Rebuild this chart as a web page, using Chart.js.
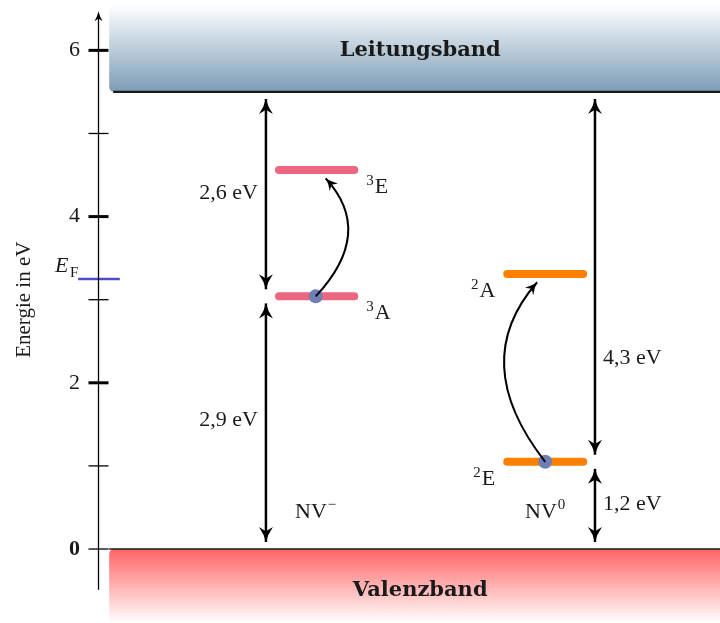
<!DOCTYPE html>
<html>
<head>
<meta charset="utf-8">
<script src="https://cdn.jsdelivr.net/npm/chart.js@4.4.1/dist/chart.umd.min.js"></script>
<style>
  body { margin: 0; background: #fff; }
</style>
</head>
<body>
<canvas id="myChart" width="720" height="623"></canvas>
<script>
// energies in eV, x in column units (0..100 across the plot area)
const tickValues = [0, 1, 2, 3, 4, 5, 6];

const bandNames = ['Leitungsband', 'Valenzband'];
const bandEdges = [5.5, 0];
const bandLabelE = [6.0, -0.5];
const bandLabelX = 51.8;
const bandLeft = 1.8;

const levelSup = ['3', '3', '2', '2'];
const levelSym = ['E', 'A', 'A', 'E'];
const levelEnergy = [4.56, 3.04, 3.31, 1.05];
const levelFrom = [29.1, 29.1, 65.8, 65.8];
const levelTo = [41.2, 41.2, 78.0, 78.0];
const levelColor = ['#ec6680', '#ec6680', '#ff8000', '#ff8000'];
const levelLabelSide = ['right', 'right', 'left', 'left'];

const electronX = [35.0, 71.9];
const electronE = [3.04, 1.05];

// curved excitation arrows: start, point on the bend, end
const exciteX = [[35.0, 40.2, 36.6], [71.9, 65.3, 70.6]];
const exciteE = [[3.04, 3.78, 4.46], [1.05, 2.19, 3.21]];

// gap arrows
const gapX = [27.0, 27.0, 79.9, 79.9];
const gapLow = [3.04, 0, 1.05, 0];
const gapHigh = [5.5, 3.04, 5.5, 1.05];
const gapLabels = ['2,6 eV', '2,9 eV', '4,3 eV', '1,2 eV'];
const gapLabelE = [4.28, 1.55, 2.29, 0.54];
const gapLabelSide = ['left', 'left', 'right', 'right'];

const defectNames = ['NV', 'NV'];
const defectSup = ['\u2212', '0'];
const defectX = [35.0, 71.9];
const defectE = [0.37, 0.37];

const fermiE = 3.25;
const fermiFrom = -3.2;
const fermiTo = 3.5;

const SERIF = '"Liberation Serif", serif';
const GAP = 0.085;

var datasets = [];

// energy levels
levelEnergy.forEach(function (e, i) {
  datasets.push({
    data: [{ x: levelFrom[i], y: e }, { x: levelTo[i], y: e }],
    borderColor: levelColor[i],
    borderWidth: 8,
    borderCapStyle: 'round',
    pointRadius: 0,
    order: 3
  });
});

// fermi level
datasets.push({
  data: [{ x: fermiFrom, y: fermiE }, { x: fermiTo, y: fermiE }],
  borderColor: '#4b4bcc',
  borderWidth: 2.5,
  pointRadius: 0,
  clip: false,
  order: 3
});

// gap arrows
gapX.forEach(function (x, i) {
  datasets.push({
    data: [{ x: x, y: gapLow[i] + GAP }, { x: x, y: gapHigh[i] - GAP }],
    borderColor: '#000',
    borderWidth: 2.5,
    pointRadius: 0,
    arrow: 'both',
    order: 2
  });
});

// excitation arrows (only the three points; the bend is drawn by the plugin)
exciteX.forEach(function (xs, i) {
  datasets.push({
    data: xs.map(function (x, j) { return { x: x, y: exciteE[i][j] }; }),
    showLine: false,
    pointRadius: 0,
    excite: true,
    order: 2
  });
});

// electrons
datasets.push({
  data: electronX.map(function (x, i) { return { x: x, y: electronE[i] }; }),
  showLine: false,
  pointRadius: 7,
  pointBackgroundColor: '#6f7fb3',
  pointBorderWidth: 0,
  order: 0
});

function arrowHead(ctx, x, y, ang, len, w) {
  ctx.save();
  ctx.translate(x, y);
  ctx.rotate(ang);
  ctx.beginPath();
  ctx.moveTo(0, 0);
  ctx.quadraticCurveTo(-len * 0.5, -w * 0.25, -len, -w);
  ctx.lineTo(-len * 0.72, 0);
  ctx.lineTo(-len, w);
  ctx.quadraticCurveTo(-len * 0.5, w * 0.25, 0, 0);
  ctx.closePath();
  ctx.fillStyle = '#000';
  ctx.fill();
  ctx.restore();
}

// text with a superscript either before or after the main text
function supText(ctx, main, sup, x, y, align, supFirst) {
  ctx.font = '22px ' + SERIF;
  var wm = ctx.measureText(main).width;
  ctx.font = '15px ' + SERIF;
  var ws = ctx.measureText(sup).width + 1;
  var total = wm + ws;
  var x0 = align === 'right' ? x - total : (align === 'center' ? x - total / 2 : x);
  ctx.textAlign = 'left';
  ctx.textBaseline = 'alphabetic';
  if (supFirst) {
    ctx.font = '15px ' + SERIF;
    ctx.fillText(sup, x0, y - 8);
    ctx.font = '22px ' + SERIF;
    ctx.fillText(main, x0 + ws, y);
  } else {
    ctx.font = '22px ' + SERIF;
    ctx.fillText(main, x0, y);
    ctx.font = '15px ' + SERIF;
    ctx.fillText(sup, x0 + wm + 1, y - 9);
  }
}

var bandPlugin = {
  id: 'bands',
  beforeDatasetsDraw: function (chart) {
    var ctx = chart.ctx, xs = chart.scales.x, ys = chart.scales.y;
    var left = xs.getPixelForValue(bandLeft), right = chart.width;
    ctx.save();
    // conduction band
    var top = ys.getPixelForValue(6.55), bot = ys.getPixelForValue(bandEdges[0]);
    var g = ctx.createLinearGradient(0, top, 0, bot);
    g.addColorStop(0, '#ffffff');
    g.addColorStop(1, '#7b9cb5');
    ctx.fillStyle = g;
    ctx.beginPath();
    ctx.roundRect(left, top, right - left, bot - top, [5, 0, 0, 5]);
    ctx.fill();
    ctx.strokeStyle = '#1a1a1a';
    ctx.lineWidth = 2.2;
    ctx.beginPath();
    ctx.moveTo(left + 4, bot);
    ctx.lineTo(right, bot);
    ctx.stroke();
    // valence band
    top = ys.getPixelForValue(bandEdges[1]);
    bot = chart.height;
    g = ctx.createLinearGradient(0, top, 0, bot);
    g.addColorStop(0, '#ff6464');
    g.addColorStop(1, '#ffffff');
    ctx.fillStyle = g;
    ctx.beginPath();
    ctx.roundRect(left, top, right - left, bot - top, [5, 0, 0, 0]);
    ctx.fill();
    ctx.lineWidth = 1.6;
    ctx.beginPath();
    ctx.moveTo(left, top);
    ctx.lineTo(right, top);
    ctx.stroke();
    ctx.restore();
  },
  afterDatasetsDraw: function (chart) {
    var ctx = chart.ctx;
    ctx.save();
    chart.data.datasets.forEach(function (ds, i) {
      var pts = chart.getDatasetMeta(i).data;
      if (ds.arrow) {
        var a = pts[0], b = pts[pts.length - 1];
        arrowHead(ctx, b.x, b.y, Math.atan2(b.y - a.y, b.x - a.x), 15, 7);
        arrowHead(ctx, a.x, a.y, Math.atan2(a.y - b.y, a.x - b.x), 15, 7);
      }
      if (ds.excite) {
        var p0 = pts[0], p1 = pts[1], p2 = pts[2];
        // quadratic curve passing through the middle point
        var cx = 2 * p1.x - (p0.x + p2.x) / 2;
        var cy = 2 * p1.y - (p0.y + p2.y) / 2;
        ctx.strokeStyle = '#000';
        ctx.lineWidth = 2;
        ctx.beginPath();
        ctx.moveTo(p0.x, p0.y);
        ctx.quadraticCurveTo(cx, cy, p2.x, p2.y);
        ctx.stroke();
        arrowHead(ctx, p2.x, p2.y, Math.atan2(p2.y - cy, p2.x - cx), 12, 5.5);
      }
    });
    ctx.restore();
  },
  afterDraw: function (chart) {
    var ctx = chart.ctx, xs = chart.scales.x, ys = chart.scales.y;
    var ax = Math.round(chart.chartArea.left) + 0.5;
    ctx.save();
    // y axis line with arrow and ticks
    ctx.strokeStyle = '#000';
    ctx.lineWidth = 1.3;
    ctx.beginPath();
    ctx.moveTo(ax, ys.getPixelForValue(-0.49));
    ctx.lineTo(ax, ys.getPixelForValue(6.4));
    ctx.stroke();
    arrowHead(ctx, ax, ys.getPixelForValue(6.47), -Math.PI / 2, 10, 4);
    tickValues.forEach(function (v) {
      var py = ys.getPixelForValue(v);
      ctx.lineWidth = (v % 2 === 0 && v !== 0) ? 3 : 1.3;
      ctx.beginPath();
      ctx.moveTo(ax - 10, py);
      ctx.lineTo(ax + 10, py);
      ctx.stroke();
    });

    ctx.fillStyle = '#1a1a1a';
    // axis title
    ctx.save();
    ctx.translate(24, ys.getPixelForValue(3.0));
    ctx.rotate(-Math.PI / 2);
    ctx.font = '21px ' + SERIF;
    ctx.textAlign = 'center';
    ctx.textBaseline = 'middle';
    ctx.fillText('Energie in eV', 0, 0);
    ctx.restore();

    // fermi label
    var fx = xs.getPixelForValue(fermiFrom), fy = ys.getPixelForValue(fermiE);
    ctx.textAlign = 'left';
    ctx.textBaseline = 'alphabetic';
    ctx.font = 'italic 22px ' + SERIF;
    ctx.fillText('E', fx - 23, fy - 7);
    ctx.font = '15px ' + SERIF;
    ctx.fillText('F', fx - 8, fy - 2);

    // band names
    ctx.font = 'bold 21px "DejaVu Serif", serif';
    ctx.textAlign = 'center';
    ctx.textBaseline = 'middle';
    bandNames.forEach(function (n, i) {
      ctx.fillText(n, xs.getPixelForValue(bandLabelX), ys.getPixelForValue(bandLabelE[i]));
    });

    // gap labels
    ctx.font = '22px ' + SERIF;
    gapLabels.forEach(function (t, i) {
      var px = xs.getPixelForValue(gapX[i]);
      ctx.textAlign = gapLabelSide[i] === 'left' ? 'right' : 'left';
      ctx.fillText(t, px + (gapLabelSide[i] === 'left' ? -8 : 8), ys.getPixelForValue(gapLabelE[i]));
    });

    // level labels
    levelEnergy.forEach(function (e, i) {
      var py = ys.getPixelForValue(e) + 23;
      if (levelLabelSide[i] === 'right') {
        supText(ctx, levelSym[i], levelSup[i], xs.getPixelForValue(levelTo[i]) + 12, py, 'left', true);
      } else {
        supText(ctx, levelSym[i], levelSup[i], xs.getPixelForValue(levelFrom[i]) - 12, py, 'right', true);
      }
    });

    // defect names
    defectNames.forEach(function (n, i) {
      supText(ctx, n, defectSup[i], xs.getPixelForValue(defectX[i]), ys.getPixelForValue(defectE[i]), 'center', false);
    });
    ctx.restore();
  }
};

var chart = new Chart(document.getElementById('myChart').getContext('2d'), {
  type: 'line',
  data: { datasets: datasets },
  options: {
    responsive: false,
    animation: false,
    layout: { padding: 0, autoPadding: false },
    plugins: { legend: { display: false }, tooltip: { enabled: false } },
    scales: {
      x: { type: 'linear', min: 0, max: 100, display: false },
      y: {
        type: 'linear',
        min: -0.89,
        max: 6.606,
        afterFit: function (s) {
          s.width = 98;
          s.paddingTop = 0;
          s.paddingBottom = 0;
        },
        afterBuildTicks: function (s) {
          s.ticks = tickValues.map(function (v) { return { value: v }; });
        },
        grid: { display: false, drawTicks: false },
        border: { display: false },
        ticks: {
          padding: 18,
          color: '#1a1a1a',
          font: function (c) {
            return { family: SERIF, size: 22, weight: (c.tick && c.tick.value === 0) ? 'bold' : 'normal' };
          },
          callback: function (v) { return v % 2 === 0 ? String(v) : ''; }
        }
      }
    }
  },
  plugins: [bandPlugin]
});
</script>
</body>
</html>
